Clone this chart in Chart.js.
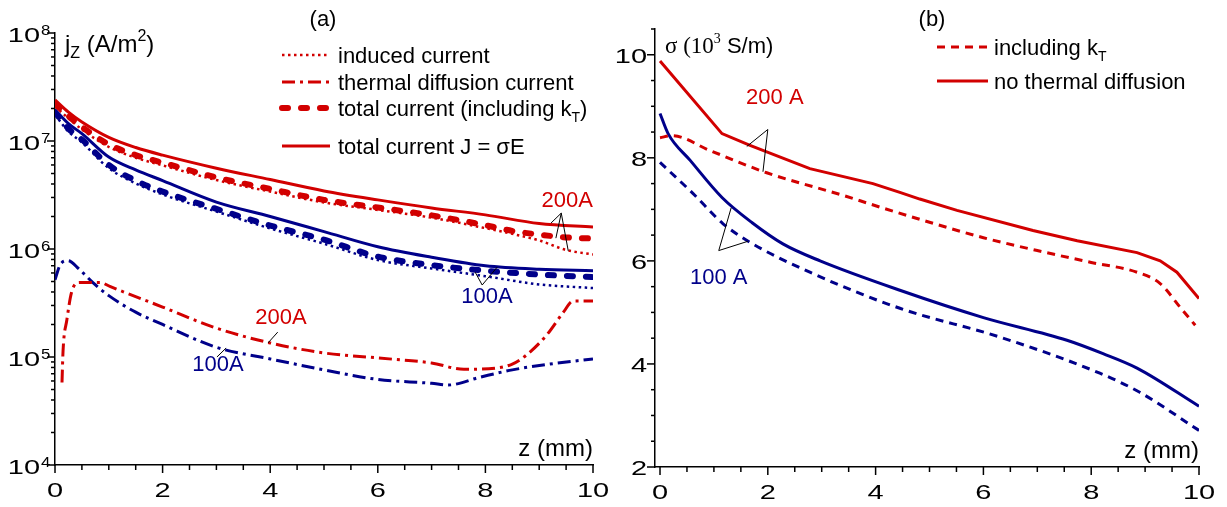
<!DOCTYPE html>
<html lang="en">
<head>
<meta charset="UTF-8">
<title>Current density and conductivity along z</title>
<script src="https://cdn.jsdelivr.net/npm/chart.js"></script>
<style>
  body { margin: 0; background: #fff; }
  .wrap { position: relative; width: 1227px; height: 507px; }
  .wrap canvas { position: absolute; left: 0; top: 0; }
</style>
</head>
<body>
<div class="wrap">
  <canvas id="chartJ" width="1227" height="507"></canvas>
  <canvas id="chartSigma" width="1227" height="507"></canvas>
</div>
<script>
// ---- panel (a): current density j_z (A/m^2), log scale ----
const zA = [0, 0.25, 0.5, 1, 1.5, 2, 3, 4, 5, 6, 7, 8, 9, 10];
const totalJ200 = [2.4e7, 1.85e7, 1.5e7, 1.08e7, 8.7e6, 7.4e6, 5.6e6, 4.4e6, 3.45e6, 2.85e6, 2.4e6, 2.07e6, 1.72e6, 1.6e6];
const totalJ100 = [1.95e7, 1.45e7, 1.17e7, 7.1e6, 5.4e6, 4.3e6, 2.72e6, 2.0e6, 1.45e6, 1.05e6, 8.4e5, 7.0e5, 6.5e5, 6.3e5];
const totalKT100 = [1.85e7, 1.3e7, 1.03e7, 6.0e6, 4.3e6, 3.4e6, 2.35e6, 1.65e6, 1.22e6, 8.5e5, 7.1e5, 6.3e5, 5.8e5, 5.5e5];
const induced100 = [1.75e7, 1.22e7, 9.7e6, 5.6e6, 4.05e6, 3.2e6, 2.22e6, 1.55e6, 1.12e6, 7.9e5, 6.6e5, 5.6e5, 4.7e5, 4.35e5];

const zB = [0, 0.25, 0.5, 1, 1.5, 2, 3, 4, 5, 6, 7, 8, 8.5, 9, 9.5, 10];
const totalKT200 = [2.2e7, 1.7e7, 1.35e7, 9.3e6, 7.4e6, 6.3e6, 4.6e6, 3.6e6, 2.85e6, 2.42e6, 2.05e6, 1.66e6, 1.47e6, 1.36e6, 1.28e6, 1.25e6];
const induced200 = [2.1e7, 1.62e7, 1.28e7, 8.8e6, 7.0e6, 5.95e6, 4.35e6, 3.4e6, 2.7e6, 2.3e6, 1.95e6, 1.56e6, 1.38e6, 1.2e6, 9.8e5, 8.9e5];

const zThermal100 = [0, 0.1, 0.24, 0.45, 0.7, 1, 1.5, 2, 3, 4, 5, 6, 7, 7.3, 7.9, 8.5, 9.2, 10];
const thermal100 = [5.2e5, 7.2e5, 7.8e5, 6.5e5, 4.9e5, 3.7e5, 2.6e5, 2.0e5, 1.23e5, 9.6e4, 7.6e4, 6.2e4, 5.7e4, 5.5e4, 6.5e4, 7.6e4, 8.6e4, 9.6e4];
const zThermal200 = [0.13, 0.15, 0.22, 0.31, 0.46, 0.84, 1.02, 2, 3, 4, 5, 6, 7, 7.6, 8.2, 8.5, 8.77, 9.14, 9.45, 9.63, 10];
const thermal200 = [5.8e4, 1.15e5, 2.2e5, 4.0e5, 4.9e5, 4.9e5, 4.5e5, 2.9e5, 1.85e5, 1.35e5, 1.09e5, 9.8e4, 8.8e4, 7.7e4, 7.9e4, 8.6e4, 1.05e5, 1.6e5, 2.6e5, 3.3e5, 3.3e5];

// ---- panel (b): conductivity sigma (10^3 S/m) ----
const zNoTD200 = [0, 1.15, 1.67, 2.78, 3.95, 4.45, 4.82, 5.51, 6.92, 7.74, 8.85, 9.28, 9.59, 10];
const sigmaNoTD200 = [9.88, 8.47, 8.24, 7.79, 7.5, 7.33, 7.2, 6.98, 6.59, 6.39, 6.16, 6.0, 5.78, 5.27];
const zKT200 = [0, 0.22, 0.93, 1.98, 3.4, 4, 5, 6, 7, 8, 8.85, 9.28, 9.65, 9.93];
const sigmaKT200 = [8.39, 8.43, 8.14, 7.71, 7.27, 7.07, 6.75, 6.45, 6.2, 5.97, 5.78, 5.56, 5.1, 4.75];
const zNoTD100 = [0, 0.15, 0.56, 1.15, 1.71, 2.28, 2.97, 4.45, 6.0, 7.55, 8.22, 8.85, 10];
const sigmaNoTD100 = [8.86, 8.47, 7.95, 7.23, 6.74, 6.33, 6.0, 5.43, 4.9, 4.46, 4.2, 3.92, 3.18];
const zKT100 = [0, 0.61, 1.17, 1.67, 2.78, 4.45, 6.31, 8.16, 8.9, 10];
const sigmaKT100 = [7.91, 7.31, 6.72, 6.36, 5.78, 5.08, 4.52, 3.82, 3.45, 2.71];

// tick labels
const zTicks = [0, 2, 4, 6, 8, 10];
const jExponents = [4, 5, 6, 7, 8];
const sigmaTicks = [2, 4, 6, 8, 10];

const FONT = "'Liberation Sans', Arial, Helvetica, sans-serif";
const SERIF = "'Liberation Serif', 'Times New Roman', serif";
const RED = '#d20000';
const BLUE = '#00008a';

const STYLE = {
  induced: { borderWidth: 2.5, borderDash: [2.5, 3.5] },
  thermal: { borderWidth: 3, borderDash: [13, 5, 3, 5] },
  totalKT: { borderWidth: 6, borderDash: [6, 13], borderCapStyle: 'round' },
  totalJ: { borderWidth: 3, borderDash: [] },
  sigmaKT: { borderWidth: 3, borderDash: [8, 6] },
  sigmaNoTD: { borderWidth: 3, borderDash: [] }
};

function pts(xs, ys) {
  return xs.map((x, i) => ({ x: x, y: ys[i] }));
}

function ds(label, xs, ys, color, style, mode) {
  return Object.assign({
    label: label,
    data: pts(xs, ys),
    borderColor: color,
    backgroundColor: color,
    pointRadius: 0,
    fill: false,
    cubicInterpolationMode: mode || 'monotone'
  }, style);
}

function line(ctx, x1, y1, x2, y2) {
  ctx.beginPath();
  ctx.moveTo(x1, y1);
  ctx.lineTo(x2, y2);
  ctx.stroke();
}

// tick labels in the original look wider than plain Arial
function wideText(ctx, text, x, y, align, sx) {
  ctx.save();
  ctx.translate(x, y);
  ctx.scale(sx, 1);
  ctx.textAlign = align;
  ctx.fillText(text, 0, 0);
  ctx.restore();
}

// draws a run of [text, font, dy] pieces from left to right
function richText(ctx, parts, x, y) {
  ctx.textAlign = 'left';
  parts.forEach(p => {
    ctx.font = p[1];
    ctx.fillText(p[0], x, y + (p[2] || 0));
    x += ctx.measureText(p[0]).width;
  });
}

function legendSample(ctx, x1, x2, y, color, style) {
  ctx.save();
  ctx.strokeStyle = color;
  ctx.lineWidth = style.borderWidth;
  ctx.setLineDash(style.borderDash);
  ctx.lineCap = style.borderCapStyle || 'butt';
  line(ctx, x1, y, x2, y);
  ctx.restore();
}

function drawNotes(chart, notes) {
  const { ctx, scales: { x, y } } = chart;
  const px = p => [x.getPixelForValue(p[0]), y.getPixelForValue(p[1])];
  ctx.save();
  notes.forEach(n => {
    const a = px(n.apex);
    ctx.strokeStyle = '#000';
    ctx.lineWidth = 1;
    n.ends.forEach(e => {
      const b = px(e);
      line(ctx, a[0], a[1], b[0], b[1]);
    });
    const t = px(n.at);
    ctx.fillStyle = n.color;
    ctx.font = '22px ' + FONT;
    ctx.textAlign = 'center';
    ctx.textBaseline = 'middle';
    ctx.fillText(n.text, t[0], t[1]);
  });
  ctx.restore();
}

const notesJ = [
  { text: '200A', color: RED, at: [9.52, 2.78e6], apex: [9.41, 2.15e6], ends: [[9.22, 1.74e6], [9.31, 1.26e6], [9.54, 9.6e5]] },
  { text: '100A', color: BLUE, at: [8.03, 3.6e5], apex: [7.94, 4.64e5], ends: [[7.81, 6.1e5], [8.22, 6.8e5]] },
  { text: '200A', color: RED, at: [4.2, 2.3e5], apex: [4.14, 1.7e5], ends: [[3.96, 1.35e5]] },
  { text: '100A', color: BLUE, at: [3.03, 8.4e4], apex: [3.18, 1.21e5], ends: [[3.01, 1.0e5]] }
];
const notesSigma = [
  { text: '200 A', color: RED, at: [2.13, 9.17], apex: [2.0, 8.55], ends: [[1.61, 8.22], [1.91, 7.73]] },
  { text: '100 A', color: BLUE, at: [1.09, 5.66], apex: [1.09, 6.2], ends: [[1.32, 7.03], [1.63, 6.38]] }
];

function drawXAxis(chart) {
  const { ctx, chartArea: a, scales: { x } } = chart;
  ctx.strokeStyle = '#000';
  ctx.lineWidth = 1.5;
  for (let v = 0; v <= 10.001; v += 0.5) {
    const p = x.getPixelForValue(v);
    line(ctx, p, a.bottom, p, a.bottom + (v % 2 === 0 ? 8 : 5));
  }
  ctx.fillStyle = '#000';
  ctx.font = '21px ' + FONT;
  ctx.textBaseline = 'alphabetic';
  zTicks.forEach(v => wideText(ctx, String(v), x.getPixelForValue(v), a.bottom + 32, 'center', 1.38));
  ctx.font = '24px ' + FONT;
  ctx.textAlign = 'right';
  ctx.fillText('z (mm)', a.right, a.bottom - 9);
}

const decorJ = {
  id: 'decorJ',
  afterDraw(chart) {
    const { ctx, chartArea: a, scales: { y } } = chart;
    ctx.save();
    drawXAxis(chart);

    // log ticks, outward
    ctx.strokeStyle = '#000';
    ctx.lineWidth = 1.5;
    jExponents.forEach(n => {
      const p = y.getPixelForValue(Math.pow(10, n));
      line(ctx, a.left - 8, p, a.left, p);
      if (n < 8) {
        for (let m = 2; m <= 9; m++) {
          const q = y.getPixelForValue(m * Math.pow(10, n));
          line(ctx, a.left - 4, q, a.left, q);
        }
      }
    });
    ctx.fillStyle = '#000';
    jExponents.forEach(n => {
      const p = y.getPixelForValue(Math.pow(10, n));
      ctx.font = '21px ' + FONT;
      wideText(ctx, '10', a.left - 15, p + 9, 'right', 1.38);
      ctx.font = '14px ' + FONT;
      wideText(ctx, String(n), a.left - 14, p + 2, 'left', 1.2);
    });

    // axis title
    richText(ctx, [['j', '24px ' + FONT], ['Z', '16px ' + FONT, 6], [' (A/m', '24px ' + FONT], ['2', '16px ' + FONT, -11], [')', '24px ' + FONT]], 65, 52);

    // panel label
    ctx.font = '22px ' + FONT;
    ctx.textAlign = 'center';
    ctx.fillText('(a)', 323, 26);

    // legend
    const rows = [
      { y: 55, style: STYLE.induced, parts: [['induced current', '22px ' + FONT]] },
      { y: 82, style: STYLE.thermal, parts: [['thermal diffusion current', '22px ' + FONT]] },
      { y: 108, style: STYLE.totalKT, parts: [['total current (including k', '22px ' + FONT], ['T', '14px ' + FONT, 6], [')', '22px ' + FONT]] },
      { y: 146, style: STYLE.totalJ, parts: [['total current J = \u03c3E', '22px ' + FONT]] }
    ];
    rows.forEach(r => {
      legendSample(ctx, 282, 330, r.y, RED, r.style);
      ctx.fillStyle = '#000';
      richText(ctx, r.parts, 338, r.y + 8);
    });
    ctx.restore();

    drawNotes(chart, notesJ);
  }
};

const decorSigma = {
  id: 'decorSigma',
  afterDraw(chart) {
    const { ctx, chartArea: a, scales: { y } } = chart;
    ctx.save();
    drawXAxis(chart);

    ctx.strokeStyle = '#000';
    ctx.lineWidth = 1.5;
    for (let v = 2; v <= 10.501; v += 0.5) {
      const p = y.getPixelForValue(v);
      line(ctx, a.left - (v % 2 === 0 ? 8 : 4), p, a.left, p);
    }
    ctx.fillStyle = '#000';
    ctx.font = '21px ' + FONT;
    ctx.textBaseline = 'alphabetic';
    sigmaTicks.forEach(v => wideText(ctx, String(v), a.left - 8, y.getPixelForValue(v) + 8, 'right', 1.38));

    // axis title
    richText(ctx, [['\u03c3 (10', '23px ' + SERIF], ['3', '14px ' + SERIF, -10], [' S/m)', '22px ' + FONT]], 665, 53);

    ctx.font = '22px ' + FONT;
    ctx.textAlign = 'center';
    ctx.fillText('(b)', 932, 26);

    const rows = [
      { y: 47, style: STYLE.sigmaKT, parts: [['including k', '22px ' + FONT], ['T', '14px ' + FONT, 6]] },
      { y: 81, style: STYLE.sigmaNoTD, parts: [['no thermal diffusion', '22px ' + FONT]] }
    ];
    rows.forEach(r => {
      legendSample(ctx, 937, 988, r.y, RED, r.style);
      ctx.fillStyle = '#000';
      richText(ctx, r.parts, 994, r.y + 8);
    });
    ctx.restore();

    drawNotes(chart, notesSigma);
  }
};

function axisOpts(type, min, max) {
  return {
    type: type,
    min: min,
    max: max,
    ticks: { display: false },
    grid: { display: false, drawTicks: false },
    border: { display: true, color: '#000', width: 1.5 }
  };
}

function baseOptions(padding, xMin, yType, yMin, yMax) {
  return {
    responsive: false,
    animation: false,
    devicePixelRatio: 1,
    events: [],
    layout: { padding: padding },
    plugins: { legend: { display: false }, tooltip: { enabled: false } },
    scales: {
      x: axisOpts('linear', xMin, 10),
      y: axisOpts(yType, yMin, yMax)
    }
  };
}

new Chart(document.getElementById('chartJ'), {
  type: 'line',
  data: {
    datasets: [
      ds('induced current 200A', zB, induced200, RED, STYLE.induced),
      ds('induced current 100A', zA, induced100, BLUE, STYLE.induced),
      ds('total current (including kT) 200A', zB, totalKT200, RED, STYLE.totalKT),
      ds('total current (including kT) 100A', zA, totalKT100, BLUE, STYLE.totalKT),
      ds('total current J = σE 200A', zA, totalJ200, RED, STYLE.totalJ),
      ds('total current J = σE 100A', zA, totalJ100, BLUE, STYLE.totalJ),
      ds('thermal diffusion current 200A', zThermal200, thermal200, RED, STYLE.thermal),
      ds('thermal diffusion current 100A', zThermal100, thermal100, BLUE, STYLE.thermal)
    ]
  },
  options: baseOptions({ left: 55, right: 1227 - 593, top: 33, bottom: 507 - 465 }, 0, 'logarithmic', 1e4, 1e8),
  plugins: [decorJ]
});

new Chart(document.getElementById('chartSigma'), {
  type: 'line',
  data: {
    datasets: [
      ds('including kT 200A', zKT200, sigmaKT200, RED, STYLE.sigmaKT),
      ds('no thermal diffusion 200A', zNoTD200, sigmaNoTD200, RED, STYLE.sigmaNoTD, 'default'),
      ds('including kT 100A', zKT100, sigmaKT100, BLUE, STYLE.sigmaKT),
      ds('no thermal diffusion 100A', zNoTD100, sigmaNoTD100, BLUE, STYLE.sigmaNoTD)
    ]
  },
  options: baseOptions({ left: 655, right: 1227 - 1199, top: 29, bottom: 507 - 467 }, -0.093, 'linear', 2, 10.5),
  plugins: [decorSigma]
});
</script>
</body>
</html>
